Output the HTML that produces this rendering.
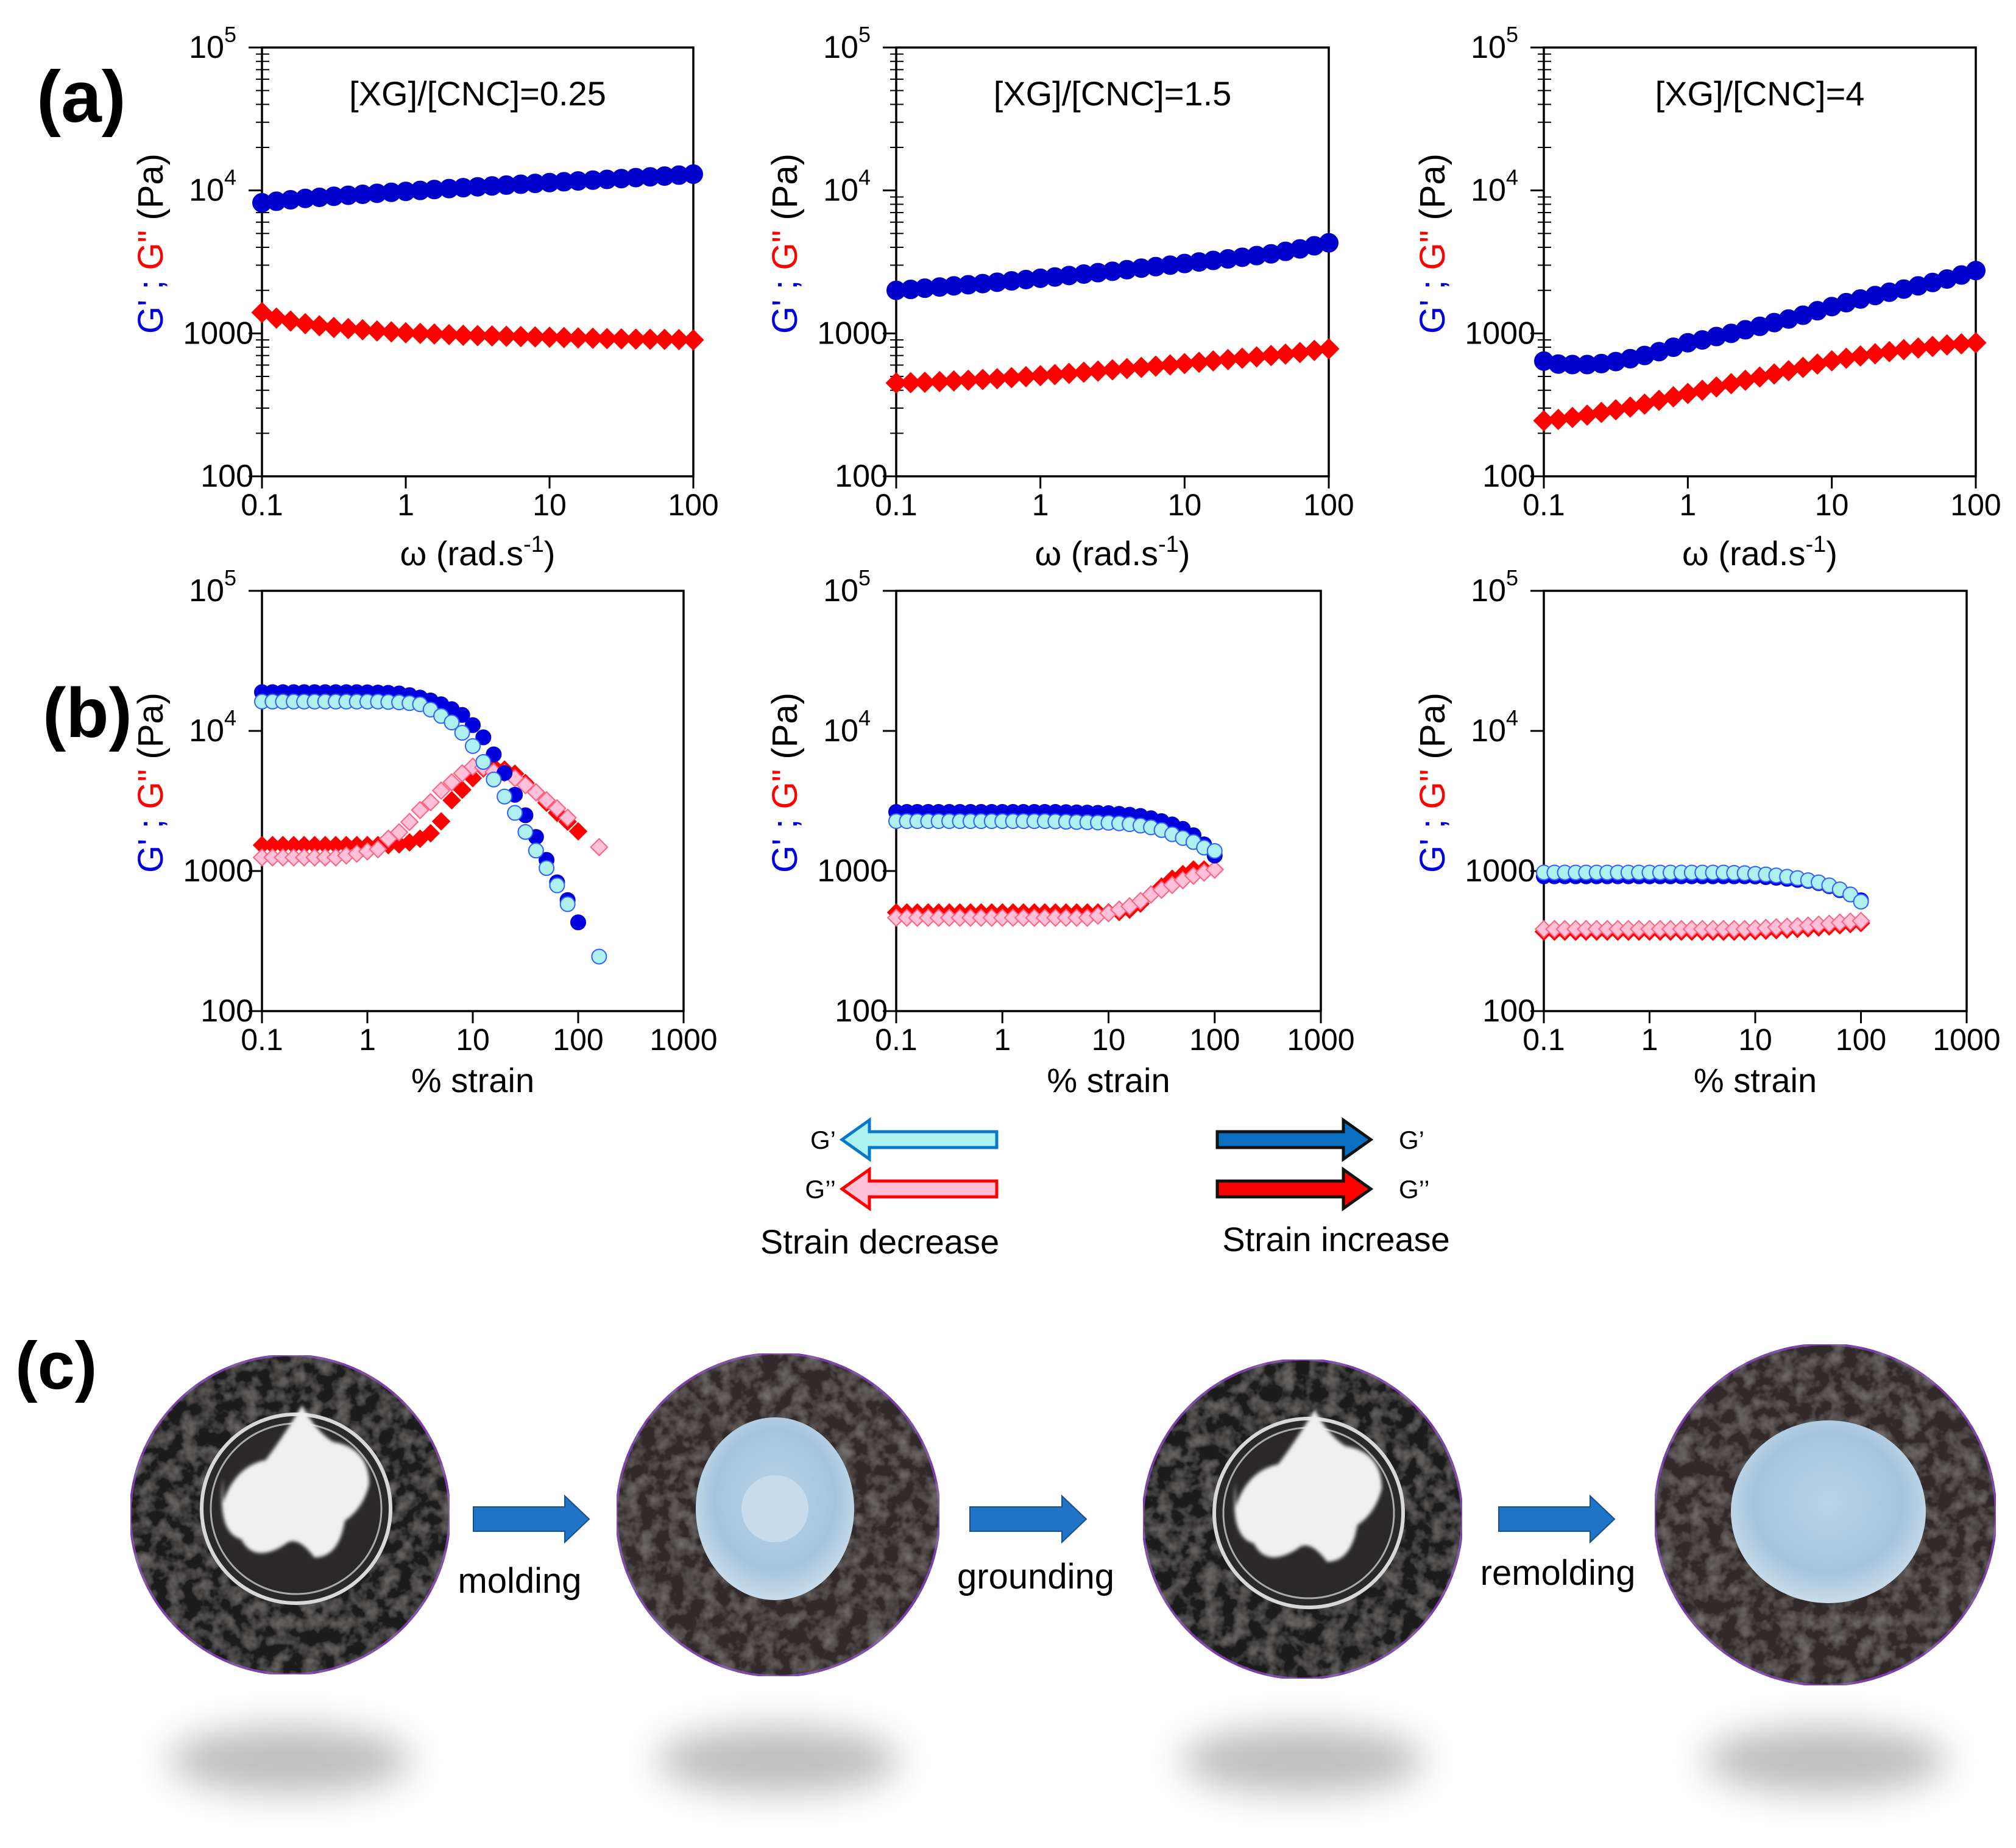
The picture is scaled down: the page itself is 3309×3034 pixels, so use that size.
<!DOCTYPE html>
<html><head><meta charset="utf-8"><style>
html,body{margin:0;padding:0;background:#fff;}
svg{display:block;font-family:"Liberation Sans",sans-serif;}
</style></head><body>
<svg id="fig" width="3309" height="3034" viewBox="0 0 3309 3034" xmlns="http://www.w3.org/2000/svg">
<defs>
<filter id="fuzz" x="0" y="0" width="100%" height="100%">
<feTurbulence type="fractalNoise" baseFrequency="0.04" numOctaves="3" seed="4" result="n"/>
<feColorMatrix in="n" type="matrix" values="0 0 0 0 0.33  0 0 0 0 0.31  0 0 0 0 0.30  0 0 0 0.9 -0.35" result="c"/>
<feComposite in="c" in2="SourceGraphic" operator="in" result="t"/>
<feMerge><feMergeNode in="SourceGraphic"/><feMergeNode in="t"/></feMerge>
</filter>
<filter id="blur30" x="-50%" y="-150%" width="200%" height="400%"><feGaussianBlur stdDeviation="30"/></filter>
<filter id="blur3"><feGaussianBlur stdDeviation="3"/></filter>
<radialGradient id="gelBlue" cx="50%" cy="45%" r="55%"><stop offset="0" stop-color="#b9d4e8"/><stop offset="0.7" stop-color="#a4c4de"/><stop offset="1" stop-color="#c9dcea"/></radialGradient>
</defs>
<g id="charts"></g>
<g id="legend"></g>
<g id="photos"></g>
</svg>
<script>
const NS='http://www.w3.org/2000/svg';
// ---- data ----
const freqX=[0.1,0.126,0.158,0.2,0.251,0.316,0.398,0.501,0.631,0.794,1,1.26,1.58,2,2.51,3.16,3.98,5.01,6.31,7.94,10,12.6,15.8,20,25.1,31.6,39.8,50.1,63.1,79.4,100];
const a1Gp=[8200,8400,8600,8800,8950,9100,9250,9400,9550,9700,9850,10000,10150,10300,10450,10600,10750,10900,11050,11200,11350,11500,11650,11800,11950,12100,12300,12450,12600,12800,13000];
const a1Gpp=[1400,1280,1220,1170,1130,1100,1080,1060,1040,1025,1010,1000,990,980,970,965,960,955,950,945,940,935,930,925,920,915,912,910,908,905,900];
const a2Gp=[2000,2030,2070,2110,2150,2190,2230,2280,2330,2380,2430,2480,2540,2600,2660,2720,2790,2860,2930,3000,3080,3160,3240,3320,3410,3500,3600,3750,3900,4100,4300];
const a2Gpp=[450,452,455,460,465,470,476,482,490,498,506,515,525,535,545,556,567,578,590,602,615,628,642,656,670,685,700,716,735,760,780];
const a3Gp=[640,610,605,605,615,635,665,700,745,800,860,900,950,1000,1060,1120,1190,1260,1340,1440,1540,1640,1740,1840,1940,2040,2150,2270,2400,2560,2750];
const a3Gpp=[245,250,258,268,280,292,305,320,340,360,380,400,422,445,470,495,520,548,578,610,643,670,695,720,745,770,790,810,830,845,860];
const strainX=[0.1,0.126,0.158,0.2,0.251,0.316,0.398,0.501,0.631,0.794,1,1.26,1.58,2,2.51,3.16,3.98,5.01,6.31,7.94,10,12.6,15.8,20,25.1,31.6,39.8,50.1,63.1,79.4,100,126,158];
const b1GpInc=[18900,18900,18900,18900,18900,18900,18900,18900,18900,18900,18850,18800,18700,18500,18000,17300,16500,15500,14300,13000,11000,9000,6800,5000,3500,2500,1750,1200,830,620,430,null,null];
const b1GpDec=[16200,16200,16200,16200,16200,16200,16200,16200,16200,16200,16200,16200,16100,16000,15800,15500,14200,12800,11500,9700,7800,6000,4500,3400,2600,1900,1400,1050,790,580,null,null,245];
const b1GppInc=[1530,1530,1530,1530,1530,1530,1530,1530,1530,1530,1530,1530,1530,1550,1600,1700,1860,2260,3200,3800,4600,5400,5550,5300,4950,4250,3650,3070,2600,2250,1920,null,null];
const b1GppDec=[1250,1250,1250,1250,1250,1250,1250,1250,1290,1330,1380,1430,1700,1890,2240,2720,3100,3750,4300,4980,5550,5500,5100,5000,4600,4100,3650,3200,2800,2400,null,null,1480];
const b2GpInc=[2640,2640,2640,2640,2640,2640,2640,2640,2640,2640,2640,2640,2640,2640,2640,2640,2630,2620,2610,2600,2590,2560,2520,2470,2380,2270,2150,2000,1800,1550,1290,null,null];
const b2GpDec=[2270,2270,2270,2270,2270,2270,2270,2270,2270,2270,2270,2270,2270,2270,2270,2260,2250,2240,2230,2220,2210,2190,2160,2110,2050,1960,1830,1720,1610,1470,1390,null,null];
const b2GppInc=[506,506,506,506,506,506,506,506,506,506,506,506,506,506,506,506,506,506,506,506,506,510,530,585,680,775,880,950,1025,1025,1025,null,null];
const b2GppDec=[464,464,464,464,464,464,464,464,464,464,464,464,464,464,464,464,464,464,464,480,500,530,560,610,680,735,795,860,925,975,1025,null,null];
const b3GpInc=[917,917,917,917,917,917,917,917,917,917,917,917,917,917,917,917,917,917,917,917,915,905,895,880,865,850,820,780,730,680,618,null,null];
const b3GpDec=[975,975,975,975,975,975,975,975,975,975,975,975,975,975,975,975,975,975,970,965,955,945,930,910,890,860,830,790,740,680,604,null,null];
const b3GppInc=[369,369,369,369,369,369,369,369,369,369,369,369,369,369,369,369,369,369,369,369,372,375,378,382,386,390,395,402,410,418,425,null,null];
const b3GppDec=[385,385,385,385,385,385,385,385,385,385,385,385,385,385,385,385,385,385,385,385,388,392,396,400,404,408,414,420,428,435,440,null,null];
const freqTicks=['0.1','1','10','100'];
const strainTicks=['0.1','1','10','100','1000'];
const titles=['[XG]/[CNC]=0.25','[XG]/[CNC]=1.5','[XG]/[CNC]=4'];

function el(tag,attrs,parent,text){const e=document.createElementNS(NS,tag);for(const k in attrs)e.setAttribute(k,attrs[k]);if(text!==undefined)e.textContent=text;(parent||document.getElementById('charts')).appendChild(e);return e;}

function makeChart(cfg){
  const g=el('g',{});
  
  
  const {L,R,T,B,xmin,xmax}=cfg;
  const ylo=2,yhi=5;
  const sx=v=>L+(Math.log10(v)-Math.log10(xmin))/(Math.log10(xmax)-Math.log10(xmin))*(R-L);
  const sy=v=>B-(Math.log10(v)-ylo)/(yhi-ylo)*(B-T);
  const fr=el('rect',{x:L,y:T,width:R-L,height:B-T,fill:'none',stroke:'#000','stroke-width':3.5},g);
  
  
  const yl=['100','1000','10','10'];const ye=[null,null,'4','5'];
  for(let d=2;d<=5;d++){
    const y=sy(Math.pow(10,d));
    el('line',{x1:L-22,x2:L,y1:y,y2:y,stroke:'#000','stroke-width':3},g);
    const t=el('text',{x:L-14,y:y+17,'text-anchor':'end','font-size':52,fill:'#000'},g);
    
    
    if(d<4){t.textContent=yl[d-2];}
    else{t.textContent='10';el('tspan',{dy:-26,'font-size':36},t,ye[d-2]);t.setAttribute('x',L-42);}
    if(d<5&&cfg.minor){for(let m=2;m<=9;m++){const yy=sy(m*Math.pow(10,d));el('line',{x1:L,x2:L+12,y1:yy,y2:yy,stroke:'#000','stroke-width':2},g);el('line',{x1:L-10,x2:L,y1:yy,y2:yy,stroke:'#000','stroke-width':2},g);}}
  }
  cfg.xt.forEach(s=>{const x=sx(parseFloat(s));
    el('line',{x1:x,x2:x,y1:B,y2:B+20,stroke:'#000','stroke-width':3},g);
    const t=el('text',{x:x,y:B+64,'text-anchor':'middle','font-size':50,fill:'#000'},g,s);
    
    
  });
  const xt=el('text',{x:(L+R)/2,y:cfg.xtY,'text-anchor':'middle','font-size':56,fill:'#000'},g);
  
  
  if(cfg.freq){xt.textContent='ω (rad.s';el('tspan',{dy:-22,'font-size':38},xt,'-1');el('tspan',{dy:22},xt,')');}
  else xt.textContent='% strain';
  const yt=el('text',{transform:`translate(${L-163},${(T+B)/2-30}) rotate(-90)`,'text-anchor':'middle','font-size':58},g);
  
  
  el('tspan',{fill:'#0000dd'},yt,"G' ; ");el('tspan',{fill:'#ff0000'},yt,'G" ');el('tspan',{fill:'#000'},yt,'(Pa)');
  if(cfg.title){const tt=el('text',{x:(L+R)/2,y:T+95,'text-anchor':'middle','font-size':56,fill:'#000'},g,cfg.title);
    
    }
  cfg.series.forEach(s=>{
    const sg=el('g',{},g);
    
    
    s.y.forEach((v,i)=>{ if(v==null)return;
      const x=sx(s.x[i]),y=sy(v);
      let m;
      if(s.shape==='c') m=el('circle',{cx:x,cy:y,r:s.r,fill:s.fill,stroke:s.stroke,'stroke-width':2},sg);
      else {const r=s.r*1.15; m=el('polygon',{points:`${x},${y-r} ${x+r},${y} ${x},${y+r} ${x-r},${y}`,fill:s.fill,stroke:s.stroke,'stroke-width':2},sg);}
      
      
    });
  });
}
const aCols=[[430,1138],[1471,2181],[2534,3243]];
const bCols=[[430,1122],[1471,2168],[2534,3228]];
const aData=[[a1Gp,a1Gpp],[a2Gp,a2Gpp],[a3Gp,a3Gpp]];
const bData=[[b1GpInc,b1GpDec,b1GppInc,b1GppDec],[b2GpInc,b2GpDec,b2GppInc,b2GppDec],[b3GpInc,b3GpDec,b3GppInc,b3GppDec]];
for(let i=0;i<3;i++){
  makeChart({name:'frequency-sweep-chart-'+(i+1),L:aCols[i][0],R:aCols[i][1],T:78,B:782,xmin:0.1,xmax:100,xt:freqTicks,freq:true,xtY:928,title:titles[i],minor:true,
    series:[{name:'g-prime-series',x:freqX,y:aData[i][0],shape:'c',r:15,fill:'#0000cc',stroke:'#0000cc'},
            {name:'g-double-prime-series',x:freqX,y:aData[i][1],shape:'d',r:14,fill:'#ff0000',stroke:'#ff0000'}]});
  makeChart({name:'strain-sweep-chart-'+(i+1),L:bCols[i][0],R:bCols[i][1],T:970,B:1660,xmin:0.1,xmax:1000,xt:strainTicks,freq:false,xtY:1793,minor:false,
    series:[{name:'g-double-prime-increase',x:strainX,y:bData[i][2],shape:'d',r:12,fill:'#ff0000',stroke:'#ff0000'},
            {name:'g-double-prime-decrease',x:strainX,y:bData[i][3],shape:'d',r:12,fill:'#ffc0d8',stroke:'#ff6080'},
            {name:'g-prime-increase',x:strainX,y:bData[i][0],shape:'c',r:12,fill:'#0000dd',stroke:'#0000dd'},
            {name:'g-prime-decrease',x:strainX,y:bData[i][1],shape:'c',r:12,fill:'#aef0f0',stroke:'#3060ff'}]});
}
[['(a)',60,200,'panel-label-a',120],['(b)',70,1210,'panel-label-b',115],['(c)',25,2280,'panel-label-c',110]].forEach(p=>{
  const t=el('text',{x:p[1],y:p[2],'font-size':p[4],'font-weight':'bold',fill:'#000'},null,p[0]);
  
  
});
const lg=document.getElementById('legend');
function larrow(x1,x2,y,fill,stroke,left,name){
  const bh=13,hh=32,hw=45;let pts;
  if(left) pts=`${x1},${y} ${x1+hw},${y-hh} ${x1+hw},${y-bh} ${x2},${y-bh} ${x2},${y+bh} ${x1+hw},${y+bh} ${x1+hw},${y+hh}`;
  else pts=`${x2},${y} ${x2-hw},${y-hh} ${x2-hw},${y-bh} ${x1},${y-bh} ${x1},${y+bh} ${x2-hw},${y+bh} ${x2-hw},${y+hh}`;
  const p=el('polygon',{points:pts,fill:fill,stroke:stroke,'stroke-width':5},lg);
  
  
}
larrow(1382,1636,1871,'#aef2f0','#0a78c8',true,'legend-arrow-g-prime-decrease');
larrow(1382,1636,1952,'#ffc0d8','#ff0000',true,'legend-arrow-g-double-prime-decrease');
larrow(1998,2250,1871,'#0a6fc0','#111',false,'legend-arrow-g-prime-increase');
larrow(1998,2250,1952,'#ff0000','#111',false,'legend-arrow-g-double-prime-increase');
[["G’",1372,1886,'end'],["G’’",1372,1967,'end'],["G’",2296,1886,'start'],["G’’",2296,1967,'start']].forEach(l=>{
  const t=el('text',{x:l[1],y:l[2],'font-size':42,fill:'#000','text-anchor':l[3]},lg,l[0]);
  
  
});
[['Strain decrease',1444,2058,'legend-caption-decrease'],['Strain increase',2193,2054,'legend-caption-increase']].forEach(l=>{
  const t=el('text',{x:l[1],y:l[2],'text-anchor':'middle','font-size':56,fill:'#000'},lg,l[0]);
  
  
});
const ph=document.getElementById('photos');
const circles=[[476,2487,262,'dish'],[1277,2487,265,'flower'],[2138,2494,262,'dish'],[2996,2487,280,'blob']];
circles.forEach((c,i)=>{
  const g=el('g',{},ph);
  
  
  el('ellipse',{cx:c[0],cy:2890,rx:200,ry:55,fill:'#bdbdbd',filter:'url(#blur30)'},g);
  el('circle',{cx:c[0],cy:c[1],r:c[2],fill:c[3]==='dish'?'#1f1c1c':'#302a29',stroke:'#7a3aa8','stroke-width':4,filter:'url(#fuzz)'},g);
  if(c[3]==='dish'){
    el('circle',{cx:c[0]+10,cy:c[1]-10,r:155,fill:'#2a2828',stroke:'#d8d8d8','stroke-width':6},g);
    el('circle',{cx:c[0]+10,cy:c[1]-10,r:140,fill:'none',stroke:'#aaa','stroke-width':3},g);
    el('path',{d:`M${c[0]-110},${c[1]-20} q20,-60 70,-70 q30,-40 60,-90 q20,40 50,60 q60,10 60,70 q-10,40 -40,60 q-10,60 -50,60 q-30,-40 -50,-20 q-50,30 -70,-10 q-40,-10 -30,-100z`,fill:'#f0f0f0',filter:'url(#blur3)'},g);
  } else if(c[3]==='flower'){
    el('ellipse',{cx:c[0]-5,cy:c[1]-10,rx:130,ry:150,fill:'url(#gelBlue)'},g);
    el('circle',{cx:c[0]-5,cy:c[1]-10,r:55,fill:'#c6dcec'},g);
  } else {
    el('ellipse',{cx:c[0]+5,cy:c[1]-5,rx:160,ry:150,fill:'url(#gelBlue)'},g);
  }
});
[[777,967,2494],[1592,1783,2494],[2460,2650,2494]].forEach((a,i)=>{
  const [x1,x2,y]=a;const bh=20,hh=38,hw=40;
  const p=el('polygon',{points:`${x2},${y} ${x2-hw},${y-hh} ${x2-hw},${y-bh} ${x1},${y-bh} ${x1},${y+bh} ${x2-hw},${y+bh} ${x2-hw},${y+hh}`,fill:'#1f74c8',stroke:'#1a4f8a','stroke-width':2},ph);
  
  
});
[['molding',853,2615],['grounding',1700,2608],['remolding',2557,2602]].forEach(l=>{
  const t=el('text',{x:l[1],y:l[2],'text-anchor':'middle','font-size':58,fill:'#000'},ph,l[0]);
  
  
});
</script>
</body></html>
